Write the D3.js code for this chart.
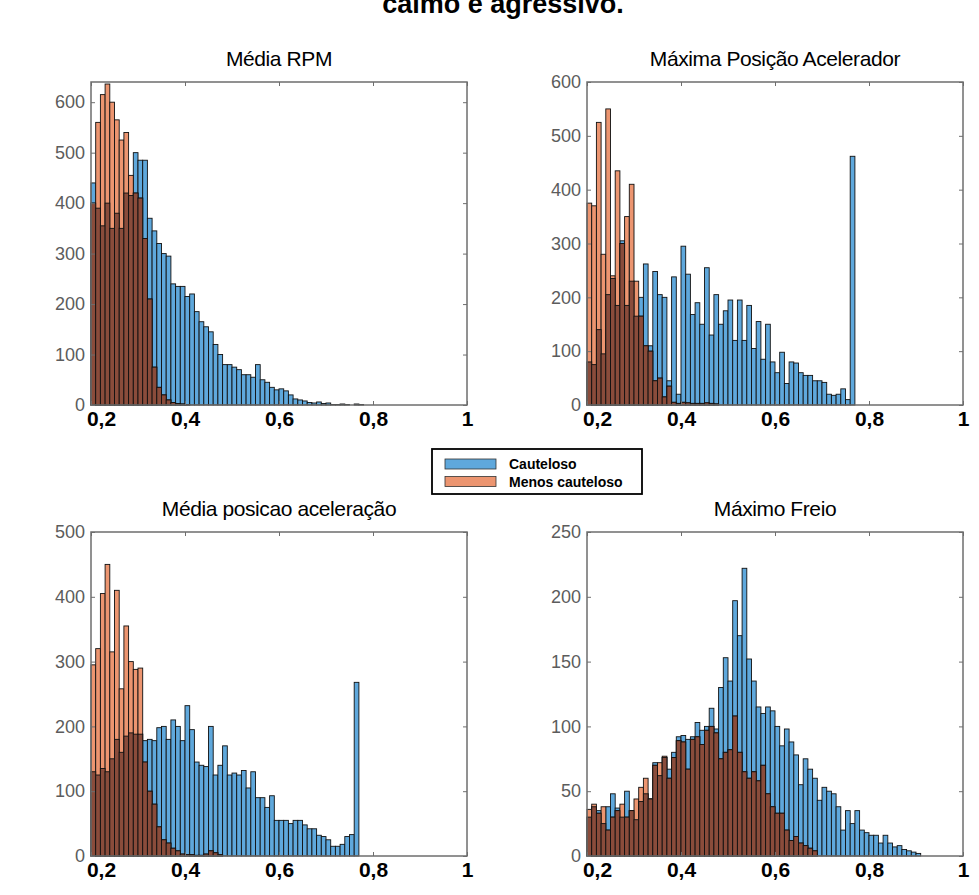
<!DOCTYPE html>
<meta charset="utf-8">
<style>
body { margin: 0; background: #fff; }
text { font-family: "Liberation Sans", Arial, Helvetica, sans-serif; }
</style>
<script src="https://cdn.jsdelivr.net/npm/d3@7"></script>
<body>
<script>
// histogram bins: start at 0.2, width 0.01
const binStart = 0.2;
const binWidth = 0.01;

const titles = ['Média RPM', 'Máxima Posição Acelerador', 'Média posicao aceleração', 'Máximo Freio'];
const seriesNames = ['Cauteloso', 'Menos cauteloso'];
const xTicks = [0.2, 0.4, 0.6, 0.8, 1];

// Média RPM
const rpmCaut = [440,390,355,400,350,380,350,420,415,500,485,485,370,345,320,300,295,240,235,235,
  215,220,185,165,155,145,120,100,80,80,75,70,60,60,55,80,50,45,35,30,
  32,28,20,12,10,8,5,4,6,3,4,1,1,2,1,0,2,1];
const rpmMenos = [400,560,615,636,600,565,525,540,455,420,410,330,210,75,35,20,10,5,3,2,1];

// Máxima posição acelerador
const maxAcelCaut = [80,75,140,95,205,235,185,305,185,230,165,200,262,110,248,205,200,45,238,20,
  295,243,168,190,150,255,130,205,150,175,195,120,195,120,185,105,155,85,150,80,
  60,98,40,80,78,60,55,55,45,45,42,20,18,20,30,10,462];
const maxAcelMenos = [375,370,525,280,550,240,435,300,350,410,230,165,110,100,45,50,15,35,5,3,
  5,4,3,3,3,4,3,2];

// Média posição aceleração
const medAcelCaut = [130,125,135,130,150,180,160,185,190,188,188,178,180,178,198,200,180,210,200,178,
  232,195,145,140,138,200,125,140,170,125,128,125,132,105,130,90,90,75,93,55,
  55,55,50,55,55,48,42,42,32,30,25,15,15,18,30,33,268];
const medAcelMenos = [295,320,405,450,315,410,258,355,300,288,290,145,100,80,45,25,20,12,8,3,
  2,2,1,1,3,8,5,2];

// Máximo freio
const freioCaut = [30,38,35,25,38,48,37,30,50,35,28,42,48,44,72,62,76,67,80,92,
  93,90,92,103,97,100,114,98,130,153,135,197,170,222,152,135,115,110,115,112,
  100,85,98,88,78,55,75,67,60,43,53,50,48,38,20,35,25,35,20,18,
  16,16,10,16,10,7,8,5,4,3,2];
const freioMenos = [36,40,33,38,20,30,35,40,30,35,44,53,60,44,70,72,77,60,76,89,
  88,67,90,92,86,97,100,95,75,80,82,108,80,65,60,65,58,70,48,38,
  33,33,20,12,15,10,8,6,4];

const yMaxes = [640, 600, 500, 250];
const yTickSets = [d3.range(0, 601, 100), d3.range(0, 601, 100), d3.range(0, 501, 100), d3.range(0, 251, 50)];

const colBlue = '#5fa8dc';
const colOrange = '#ec9570';
const colBoth = '#8a4c3b';
const axisCol = '#6e6e6e';

const locale = d3.formatLocale({decimal: ',', thousands: '.', grouping: [3], currency: ['', '']});
const fmtX = locale.format('~g');

const svg = d3.select('body').append('svg')
  .attr('width', 979)
  .attr('height', 895);

// title (cut at the top in the original)
svg.append('text')
  .attr('x', 503).attr('y', 13)
  .attr('text-anchor', 'middle')
  .style('font-size', '27px').style('font-weight', 'bold')
  .text('calmo e agressivo.');

const layout = [
  {x: 91, y: 82, w: 376, h: 323},
  {x: 587, y: 82, w: 376, h: 323},
  {x: 91, y: 532, w: 376, h: 324},
  {x: 587, y: 532, w: 376, h: 324}
];
const cautData = [rpmCaut, maxAcelCaut, medAcelCaut, freioCaut];
const menosData = [rpmMenos, maxAcelMenos, medAcelMenos, freioMenos];

function drawPanel(i) {
  const p = layout[i];
  const g = svg.append('g');

  const x = d3.scaleLinear().domain([0.2, 1]).range([p.x, p.x + p.w]);
  const y = d3.scaleLinear().domain([0, yMaxes[i]]).range([p.y + p.h, p.y]);

  const n = Math.max(cautData[i].length, menosData[i].length);
  const bins = d3.range(n).map(k => ({
    x0: binStart + k * binWidth,
    b: cautData[i][k] || 0,
    o: menosData[i][k] || 0
  }));

  function layer(cls, val, fill) {
    g.append('g').selectAll('rect.' + cls)
      .data(bins.filter(d => val(d) > 0))
      .join('rect')
        .attr('class', cls)
        .attr('x', d => x(d.x0))
        .attr('width', d => x(d.x0 + binWidth) - x(d.x0))
        .attr('y', d => y(val(d)))
        .attr('height', d => y(0) - y(val(d)))
        .attr('fill', fill)
        .attr('stroke', '#111')
        .attr('stroke-width', 0.9);
  }
  layer('caut', d => d.b, colBlue);
  layer('menos', d => d.o, colOrange);
  layer('both', d => Math.min(d.b, d.o), colBoth);

  // axes (ticks point inward, matlab style)
  const yAx = g.append('g')
    .attr('transform', `translate(${p.x},0)`)
    .call(d3.axisLeft(y).tickValues(yTickSets[i]).tickSizeInner(-4).tickSizeOuter(0).tickPadding(6));
  yAx.selectAll('text').style('font-size', '18px').style('fill', '#5c5c5c');

  g.append('g')
    .attr('transform', `translate(${p.x + p.w},0)`)
    .call(d3.axisRight(y).tickValues(yTickSets[i]).tickSizeInner(-4).tickSizeOuter(0).tickFormat(''));

  const xAx = g.append('g')
    .attr('transform', `translate(0,${p.y + p.h})`)
    .call(d3.axisBottom(x).tickValues(xTicks).tickSizeInner(-4).tickSizeOuter(0).tickPadding(6).tickFormat(fmtX));
  xAx.selectAll('text')
    .style('font-size', '21px').style('font-weight', 'bold').style('fill', '#000')
    .attr('dx', (d, k) => k === 0 ? 10 : 0);

  g.append('g')
    .attr('transform', `translate(0,${p.y})`)
    .call(d3.axisTop(x).tickValues(xTicks).tickSizeInner(-4).tickSizeOuter(0).tickFormat(''));

  g.selectAll('.domain').remove();
  g.selectAll('.tick line').attr('stroke', axisCol);

  g.append('rect')
    .attr('x', p.x).attr('y', p.y)
    .attr('width', p.w).attr('height', p.h)
    .attr('fill', 'none')
    .attr('stroke', axisCol)
    .attr('stroke-width', 1.5);

  g.append('text')
    .attr('x', p.x + p.w / 2).attr('y', p.y - 16)
    .attr('text-anchor', 'middle')
    .style('font-size', '21px')
    .style('letter-spacing', '-0.4px')
    .text(titles[i]);
}

d3.range(4).forEach(drawPanel);

// legend
const leg = svg.append('g');
leg.append('rect')
  .attr('x', 432).attr('y', 449).attr('width', 210).attr('height', 45)
  .attr('fill', '#fff').attr('stroke', '#000').attr('stroke-width', 1.8);
[colBlue, colOrange].forEach((c, k) => {
  leg.append('rect')
    .attr('x', 445).attr('y', 459 + k * 17.5).attr('width', 51).attr('height', 10)
    .attr('fill', c).attr('stroke', '#333').attr('stroke-width', 0.8);
  leg.append('text')
    .attr('x', 509).attr('y', 469 + k * 17.5)
    .style('font-size', '14px').style('font-weight', 'bold')
    .text(seriesNames[k]);
});
</script>
</body>
